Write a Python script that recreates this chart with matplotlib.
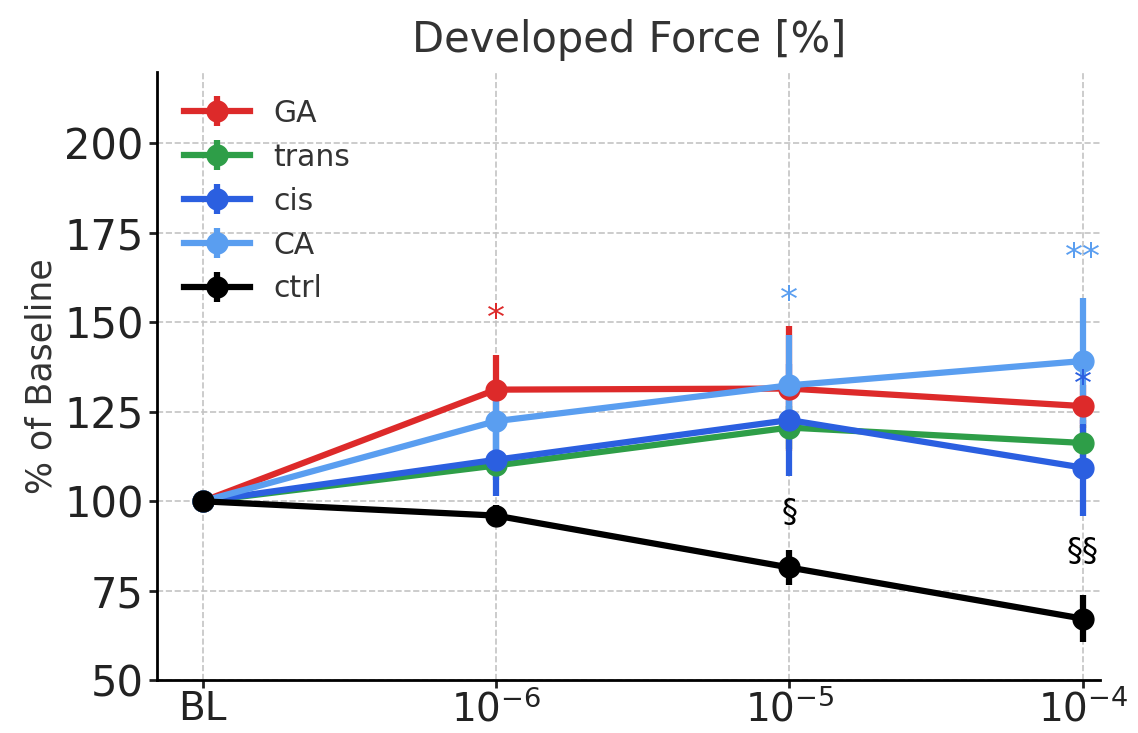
import numpy as np
import matplotlib.pyplot as plt

labels = ['BL', r'$10^{-6}$', r'$10^{-5}$', r'$10^{-4}$']
groups = ['GA', 'trans', 'cis', 'CA', 'ctrl']
colors = ['#dd2a2a', '#2e9e48', '#2b5fe0', '#5a9ef0', '#000000']

ga = [100, 131.2, 131.5, 126.6]
ga_err = [0, 9.7, 17.5, 6]
trans = [100, 110.0, 120.6, 116.3]
trans_err = [0, 4, 6, 5]
cis = [100, 111.6, 122.7, 109.4]
cis_err = [0, 10, 15.7, 13.4]
ca = [100, 122.4, 132.4, 139.2]
ca_err = [0, 9, 14.2, 17.5]
ctrl = [100, 96.0, 81.5, 67.2]
ctrl_err = [0, 3, 5, 6.5]

means = [ga, trans, cis, ca, ctrl]
errs = [ga_err, trans_err, cis_err, ca_err, ctrl_err]

# significance marks: (x index, y, text, colour index)
marks = [(1, 151, '*', 0), (2, 156, '*', 3), (3, 168, '**', 3),
         (3, 132.5, '*', 2), (2, 97, '§', 4), (3, 86, '§§', 4)]

fig, ax = plt.subplots(figsize=(11.38, 7.33), dpi=100)
x = np.arange(len(labels))

for name, m, e, c in zip(groups, means, errs, colors):
    ax.errorbar(x, m, yerr=e, color=c, lw=4.5, elinewidth=4.5,
                marker='o', ms=15, capsize=0, label=name)

for xi, yi, txt, ci in marks:
    ax.text(xi, yi, txt, color=colors[ci], ha='center', va='center',
            fontsize=26 if '*' in txt else 23)

ax.set_xticks(x)
ax.set_xticklabels(labels)
ax.set_xlim(-0.155, 3.06)
ax.set_ylim(50, 220)
ax.set_yticks([50, 75, 100, 125, 150, 175, 200])
ax.tick_params(labelsize=30, width=2, length=6, colors='#222222')
ax.tick_params(axis='x', pad=1, labelsize=28)
ax.set_ylabel('% of Baseline', fontsize=25, color='#333333')
ax.set_title('Developed Force [%]', fontsize=30, color='#333333', pad=14)
ax.grid(True, ls='--', color='#c4c4c4', lw=1.2)
ax.set_axisbelow(True)
for s in ['top', 'right']:
    ax.spines[s].set_visible(False)
for s in ['left', 'bottom']:
    ax.spines[s].set_linewidth(2)

leg = ax.legend(loc='upper left', frameon=False, fontsize=21.5,
                handlelength=2.2, labelspacing=0.5, borderaxespad=0.5)
for t in leg.get_texts():
    t.set_color('#333333')

fig.subplots_adjust(left=0.138, right=0.967, top=0.902, bottom=0.072)
fig.savefig('out.png')
